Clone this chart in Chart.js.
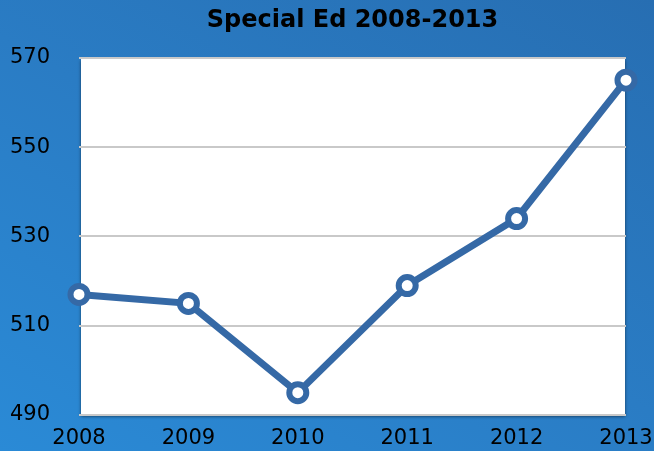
<!DOCTYPE html>
<html>
<head>
<meta charset="utf-8">
<script src="https://cdn.jsdelivr.net/npm/chart.js@4.4.1/dist/chart.umd.min.js"></script>
<style>
  html, body { margin: 0; padding: 0; }
  body {
    width: 654px; height: 451px; overflow: hidden;
    background: linear-gradient(30deg, #2a8ad6 0%, #2a7cc4 50%, #276eb2 100%);
  }
  canvas { display: block; }
</style>
</head>
<body>
<canvas id="chart" width="654" height="451"></canvas>
<script>
// data
const years = ["2008", "2009", "2010", "2011", "2012", "2013"];
const students = [517, 515, 495, 519, 534, 565];
const yMin = 490, yMax = 570, yStep = 20;

const lineBlue = "#3569a6";

// white plot area with a soft shadow underneath
const plotBg = {
    id: 'plotBg',
    beforeDraw(chart) {
        const a = chart.chartArea;
        const ctx = chart.ctx;
        ctx.save();
        ctx.shadowColor = "rgba(0,0,0,0.55)";
        ctx.shadowBlur = 3;
        ctx.shadowOffsetY = 2;
        ctx.fillStyle = "#ffffff";
        ctx.fillRect(a.left + 2, a.top, a.right - a.left - 3, a.bottom - a.top);
        ctx.restore();
    }
};

new Chart(document.getElementById('chart'), {
    type: 'line',
    data: {
        labels: years,
        datasets: [{
            data: students,
            borderColor: lineBlue,
            borderWidth: 7,
            pointRadius: 8.5,
            pointBorderWidth: 6,
            pointBackgroundColor: "#ffffff",
            pointBorderColor: lineBlue,
            tension: 0,
            clip: false
        }]
    },
    options: {
        responsive: false,
        animation: false,
        devicePixelRatio: 1,
        layout: { padding: { left: 0, right: 28, top: 0, bottom: 0 } },
        plugins: {
            legend: { display: false },
            tooltip: { enabled: false },
            title: {
                display: true,
                text: "Special Ed 2008-2013",
                color: "#000000",
                fullSize: false,
                font: { family: "'DejaVu Sans'", size: 24, weight: 'bold' },
                padding: { top: 6, bottom: 23 }
            }
        },
        scales: {
            x: {
                offset: false,
                grid: { display: false, drawTicks: false },
                border: { display: false },
                ticks: {
                    color: "#000000",
                    font: { family: "'DejaVu Sans'", size: 21 },
                    padding: 11,
                    maxRotation: 0
                },
                afterFit(scale) {
                    scale.height = 36;
                    scale.paddingLeft = 0;
                    scale.paddingRight = 0;
                }
            },
            y: {
                min: yMin,
                max: yMax,
                grid: { color: "#c9c9c9", lineWidth: 2, drawTicks: false },
                border: { display: false },
                ticks: {
                    stepSize: yStep,
                    color: "#000000",
                    font: { family: "'DejaVu Sans'", size: 21 },
                    padding: 29
                },
                afterFit(scale) {
                    scale.width = 79;
                    scale.paddingTop = 0;
                    scale.paddingBottom = 0;
                }
            }
        }
    },
    plugins: [plotBg]
});
</script>
</body>
</html>
